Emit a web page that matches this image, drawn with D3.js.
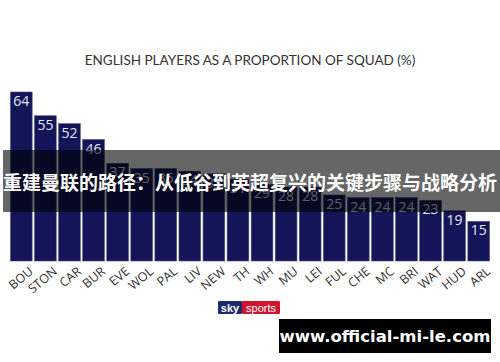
<!DOCTYPE html>
<html>
<head>
<meta charset="utf-8">
<script src="https://cdn.jsdelivr.net/npm/d3@7"></script>
<style>
  body { margin: 0; background: #fff; }
</style>
</head>
<body>
<div id="chart"></div>
<script>
const clubs = ['BOU', 'STON', 'CAR', 'BUR', 'EVE', 'WOL', 'PAL', 'LIV', 'NEW', 'TH', 'WH', 'MU', 'LEI', 'FUL', 'CHE', 'MC', 'BRI', 'WAT', 'HUD', 'ARL'];
const englishPct = [64, 55, 52, 46, 37, 35, 35, 34, 33, 31, 29, 28, 28, 25, 24, 24, 24, 23, 19, 15];
const chartTitle = 'ENGLISH PLAYERS AS A PROPORTION OF SQUAD (%)';
const bannerText = '重建曼联的路径：从低谷到英超复兴的关键步骤与战略分析';
const siteText = 'www.official-mi-le.com';

const width = 500, height = 362;
const baseline = 261;

const svg = d3.select('#chart').append('svg')
  .attr('width', width)
  .attr('height', height);

const data = clubs.map((c, i) => ({ club: c, value: englishPct[i] }));

const x = d3.scaleBand().domain(clubs).range([10, 490]).paddingInner(0.1).paddingOuter(0.02);
const y = d3.scaleLinear().domain([0, 64]).range([baseline, 92]);

// title
svg.append('text')
  .attr('x', 250)
  .attr('y', 65)
  .attr('text-anchor', 'middle')
  .style('font', '13.5px Lato, sans-serif')
  .style('fill', '#333')
  .text(chartTitle);

// bars
svg.selectAll('.bar')
  .data(data)
  .enter().append('rect')
  .attr('class', 'bar')
  .attr('x', d => x(d.club))
  .attr('y', d => y(d.value))
  .attr('width', x.bandwidth())
  .attr('height', d => baseline - y(d.value))
  .style('fill', '#131558')
  .style('stroke', '#4a4c80')
  .style('stroke-width', 0.6);

svg.selectAll('.val')
  .data(data)
  .enter().append('text')
  .attr('class', 'val')
  .attr('x', d => x(d.club) + x.bandwidth() / 2)
  .attr('y', d => y(d.value) + 14)
  .attr('text-anchor', 'middle')
  .style('font', '14px "Open Sans", sans-serif')
  .style('fill', '#e8e8f0')
  .text(d => d.value);

// rotated club labels
const xAxis = svg.append('g')
  .attr('transform', `translate(0, ${baseline})`)
  .call(d3.axisBottom(x).tickSize(0).tickPadding(0));
xAxis.select('.domain').remove();
xAxis.selectAll('text')
  .attr('transform', 'translate(7, 5) rotate(-40)')
  .attr('dy', '0.7em')
  .attr('y', 0)
  .style('text-anchor', 'end')
  .style('font', '12.5px "Open Sans", sans-serif')
  .style('fill', '#333');

// sky sports logo
const logo = svg.append('g').attr('transform', 'translate(218, 301)');
logo.append('rect').attr('width', 24).attr('height', 13).attr('rx', 1).style('fill', '#1d2a6b');
logo.append('rect').attr('x', 24).attr('width', 38).attr('height', 13).attr('rx', 1).style('fill', '#d0162f');
logo.append('text').attr('x', 12).attr('y', 10.5).attr('text-anchor', 'middle')
  .style('font', 'bold 11px "Liberation Sans", sans-serif').style('fill', '#fff').text('sky');
logo.append('text').attr('x', 43).attr('y', 10.5).attr('text-anchor', 'middle')
  .style('font', '11px "Liberation Sans", sans-serif').style('fill', '#fff').text('sports');

// translucent banner over the chart
svg.append('rect')
  .attr('x', 3)
  .attr('y', 150)
  .attr('width', width - 3)
  .attr('height', 62)
  .style('fill', 'rgba(0,0,0,0.6)');

svg.append('text')
  .attr('x', 250)
  .attr('y', 190)
  .attr('text-anchor', 'middle')
  .style('font', 'bold 19px "Noto Sans CJK SC", sans-serif')
  .style('fill', '#fff')
  .text(bannerText);

// site box
svg.append('rect')
  .attr('x', 279)
  .attr('y', 319)
  .attr('width', 212)
  .attr('height', 34)
  .style('fill', '#000');

svg.append('text')
  .attr('x', 385)
  .attr('y', 342)
  .attr('text-anchor', 'middle')
  .style('font', 'bold 16.5px "DejaVu Sans", sans-serif')
  .style('fill', '#fff')
  .text(siteText);
</script>
</body>
</html>
